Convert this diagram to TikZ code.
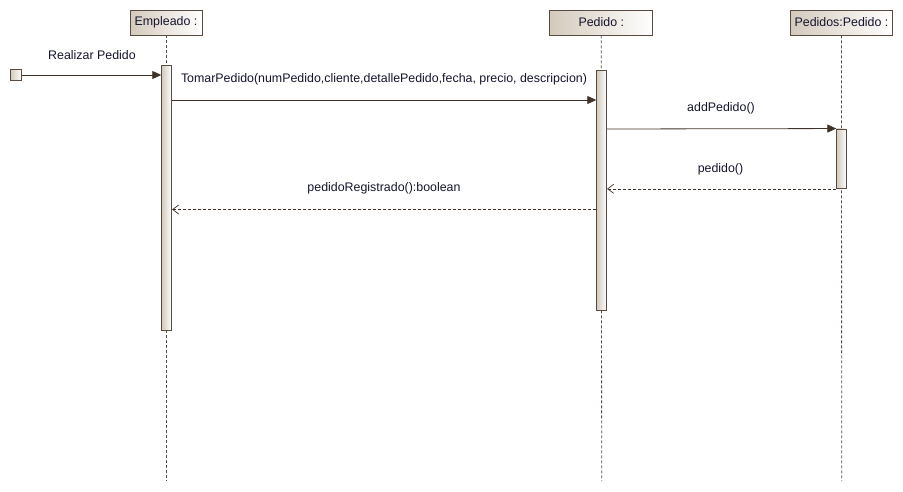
\documentclass[tikz,border=0pt]{standalone}
\usepackage{fontspec}
\setmainfont{Liberation Sans}
\usetikzlibrary{arrows.meta}
\definecolor{edge}{RGB}{90,75,65}
\definecolor{msgline}{RGB}{64,50,40}
\definecolor{tan}{RGB}{212,202,188}
\definecolor{txt}{RGB}{20,20,45}
\tikzset{
  header/.style={draw=edge, line width=0.8pt, left color=tan, right color=white, minimum height=25pt, inner sep=0pt, text=txt, font=\fontsize{12.4}{14}\selectfont},
  actbox/.style={draw=edge, line width=0.8pt, left color=tan, right color=white, minimum width=10pt, inner sep=0pt},
  lifeline/.style={draw=edge, line width=0.8pt, dash pattern=on 3pt off 2pt},
  callmsg/.style={draw=msgline, line width=0.8pt, -{Triangle[length=9pt,width=8pt]}},
  retmsg/.style={draw=msgline, line width=0.7pt, dash pattern=on 3pt off 2pt, -{Straight Barb[length=6pt,width=9pt]}},
  lbl/.style={text=txt, font=\fontsize{12.4}{14}\selectfont, inner sep=0pt},
}
\begin{document}
\begin{tikzpicture}[x=1pt,y=-1pt]
\useasboundingbox (0,0) rectangle (903,491);
% headers
\node[header, minimum width=72pt] (hE) at (166,22.5) {Empleado :};
\node[header, minimum width=103pt] (hP) at (601.3,22.5) {Pedido :};
\node[header, minimum width=102pt] (hQ) at (841.5,22.5) {Pedidos:Pedido :};
% lifeline ends
\coordinate (eE) at (166,481);
\coordinate (eP) at (601.7,481);
\coordinate (eQ) at (841.7,481);
\draw[lifeline] (hE.south) -- (eE);
\draw[lifeline] (hP.south) -- (eP);
\draw[lifeline] (hQ.south) -- (eQ);
% activations
\node[actbox, minimum height=265.5pt] (aE) at (166.7,198) {};
\node[actbox, minimum height=240pt] (aP) at (601.7,190.2) {};
\node[actbox, minimum height=59.5pt] (aQ) at (841.7,158.7) {};
% initial
\node[draw=edge, line width=0.8pt, left color=tan, right color=white, minimum width=11pt, minimum height=11pt, inner sep=0pt] (start) at (16.2,75) {};
% messages
\draw[callmsg] (start.east) -- (aE.west |- start.east);
\node[lbl] (l0) at (92,55.5) {Realizar Pedido};
\coordinate (m1a) at (aE.east |- 0,100);
\coordinate (m1b) at (aP.west |- 0,100);
\draw[callmsg] (m1a) -- (m1b);
\node[lbl] (l1) at (384,79.5) {TomarPedido(numPedido,cliente,detallePedido,fecha, precio, descripcion)};
\coordinate (m2a) at (aP.east |- 0,129);
\draw[callmsg] (m2a) -- (aQ.north west);
\node[lbl] (l2) at (721,108.5) {addPedido()};
\coordinate (m3a) at (aQ.south west);
\coordinate (m3b) at (aP.east |- aQ.south west);
\draw[retmsg] (m3a) -- (m3b);
\node[lbl] (l3) at (720.5,169.5) {pedido()};
\coordinate (m4a) at (aP.west |- 0,209.5);
\coordinate (m4b) at (aE.east |- 0,209.5);
\draw[retmsg] (m4a) -- (m4b);
\node[lbl] (l4) at (384,188.5) {pedidoRegistrado():boolean};
\end{tikzpicture}
\end{document}
